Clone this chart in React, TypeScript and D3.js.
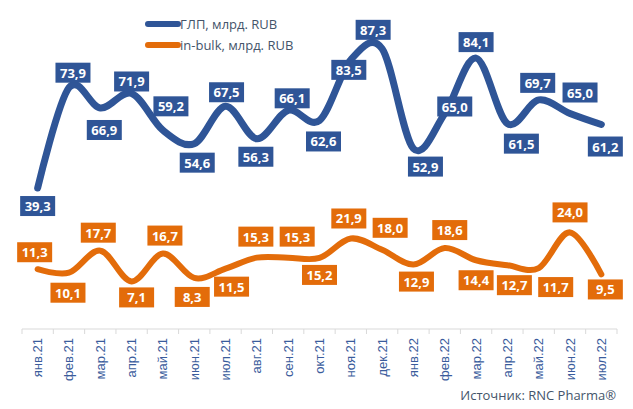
import { useMemo } from "react";
import * as d3 from "d3";

const months = [
    "янв.21", "фев.21", "мар.21", "апр.21", "май.21", "июн.21", "июл.21", "авг.21", "сен.21", "окт.21",
    "ноя.21", "дек.21", "янв.22", "фев.22", "мар.22", "апр.22", "май.22", "июн.22", "июл.22"
];
const glpValues = [39.3, 73.9, 66.9, 71.9, 59.2, 54.6, 67.5, 56.3, 66.1, 62.6, 83.5, 87.3, 52.9, 65.0, 84.1, 61.5, 69.7, 65.0, 61.2];
const bulkValues = [11.3, 10.1, 17.7, 7.1, 16.7, 8.3, 11.5, 15.3, 15.3, 15.2, 21.9, 18.0, 12.9, 18.6, 14.4, 12.7, 11.7, 24.0, 9.5];
const seriesNames = ["ГЛП, млрд. RUB", "in-bulk, млрд. RUB"];
const sourceText = "Источник: RNC Pharma®";

// label placement offsets (px) from each point, as laid out in the original
const glpLabelOffsets = [
    [0, 18], [4, -15], [4, 22], [0, -12], [8, -24], [3, 19], [1, -14], [-1, 18], [4, -12], [4, 21],
    [-2, 10], [-9, -19], [12, 18], [10, -7], [0, -16], [14, 20], [-1, -17], [10, -21], [4, 22]
];
const bulkLabelOffsets = [
    [-3, -17], [-1, 20], [-2, -18], [5, 16], [2, -18], [-2, 19], [6, 18], [-1, -21], [9, -21], [0, 17],
    [-2, -20], [8, -22], [3, 17], [5, -18], [0, 20], [7, 20], [17, 19], [0, -20], [4, 15]
];

const WIDTH = 633;
const HEIGHT = 409;
const AXIS_Y = 329;
const BLUE = "#2F5597";
const ORANGE = "#E36C0A";
const TEXT = "#44546A";
const TICK_TEXT = "#3A5C9C";
const FONT = "'Open Sans', 'Noto Sans', sans-serif";

const fmt = (v: number) => v.toFixed(1).replace(".", ",");

export default function App() {
    const x = useMemo(() => d3.scaleBand<string>().domain(months).range([22, 617]).padding(0), []);
    const y = useMemo(() => d3.scaleLinear().domain([0, 100]).range([302, 12]), []);
    const cx = (i: number) => (x(months[i]) as number) + x.bandwidth() / 2;

    const line = d3
        .line<number>()
        .x((_, i) => cx(i))
        .y(d => y(d))
        .curve(d3.curveCardinal.tension(0));

    const series = [
        { values: glpValues, color: BLUE, width: 7, offsets: glpLabelOffsets },
        { values: bulkValues, color: ORANGE, width: 6, offsets: bulkLabelOffsets }
    ];

    return (
        <svg width={WIDTH} height={HEIGHT} style={{ position: "absolute", left: 0, top: 0, background: "#fff" }} fontFamily={FONT}>
            {/* axis */}
            <line x1={22} x2={617} y1={AXIS_Y} y2={AXIS_Y} stroke="#D9D9D9" strokeWidth={1} />
            {months.map((m, i) => (
                <line key={"t" + i} x1={x(m) as number} x2={x(m) as number} y1={AXIS_Y} y2={AXIS_Y + 5} stroke="#D9D9D9" />
            ))}
            <line x1={617} x2={617} y1={AXIS_Y} y2={AXIS_Y + 5} stroke="#D9D9D9" />
            {months.map((m, i) => (
                <text
                    key={"l" + i}
                    transform={`translate(${cx(i)},${AXIS_Y + 9}) rotate(-90)`}
                    textAnchor="end"
                    dominantBaseline="central"
                    fontSize={13}
                    fontFamily="'Liberation Sans', Arial, sans-serif"
                    fill={TICK_TEXT}
                >
                    {m}
                </text>
            ))}

            {/* lines */}
            {series.map((s, k) => (
                <path key={"p" + k} d={line(s.values) || ""} fill="none" stroke={s.color} strokeWidth={s.width} strokeLinecap="round" />
            ))}

            {/* data labels */}
            {series.map((s, k) =>
                s.values.map((v, i) => {
                    const lx = cx(i) + s.offsets[i][0];
                    const ly = y(v) + s.offsets[i][1];
                    const w = 35;
                    const h = 20;
                    return (
                        <g key={`b${k}-${i}`}>
                            <rect x={lx - w / 2} y={ly - h / 2} width={w} height={h} fill={s.color} />
                            <text x={lx} y={ly} textAnchor="middle" dominantBaseline="central" fontSize={13} fontWeight="bold" fill="#fff">
                                {fmt(v)}
                            </text>
                        </g>
                    );
                })
            )}

            {/* legend */}
            {series.map((s, k) => (
                <g key={"lg" + k} transform={`translate(148,${24 + k * 21})`}>
                    <line x1={0} x2={30} y1={0} y2={0} stroke={s.color} strokeWidth={6} strokeLinecap="round" />
                    <text x={32} y={0} dominantBaseline="central" fontSize={13} fill={TEXT}>
                        {seriesNames[k]}
                    </text>
                </g>
            ))}

            <text x={616} y={400} textAnchor="end" fontSize={13} fill={TEXT}>
                {sourceText}
            </text>
        </svg>
    );
}
